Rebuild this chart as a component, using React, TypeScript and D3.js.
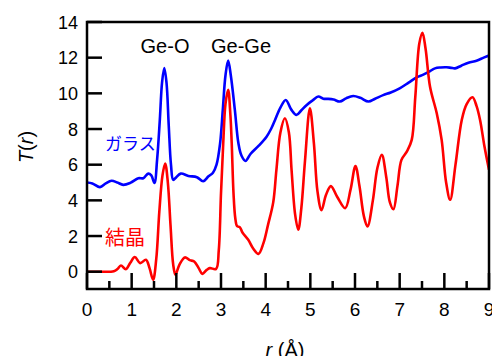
import * as d3 from 'd3';

// Glass T(r)
const glassR = [0, 0.12, 0.29, 0.42, 0.55, 0.68, 0.81, 0.97, 1.15, 1.26, 1.37, 1.44, 1.51, 1.57, 1.63, 1.68, 1.73, 1.78, 1.83, 1.88, 1.93, 2.0, 2.1, 2.27, 2.46, 2.6, 2.72, 2.82, 2.9, 2.98, 3.04, 3.1, 3.16, 3.22, 3.31, 3.39, 3.46, 3.55, 3.66, 3.84, 4.02, 4.12, 4.21, 4.33, 4.45, 4.57, 4.69, 4.8, 4.92, 5.05, 5.18, 5.29, 5.4, 5.52, 5.66, 5.8, 5.96, 6.12, 6.3, 6.45, 6.63, 6.8, 7.0, 7.2, 7.38, 7.53, 7.65, 7.79, 7.92, 8.05, 8.15, 8.24, 8.38, 8.54, 8.72, 8.88, 9.0];
const glassT = [5.0, 4.95, 4.74, 4.95, 5.1, 5.0, 4.87, 4.98, 5.24, 5.24, 5.5, 5.4, 4.98, 6.3, 8.5, 10.6, 11.42, 10.6, 8.2, 6.0, 5.15, 5.3, 5.5, 5.37, 5.3, 5.07, 5.35, 5.55, 6.0, 7.2, 9.07, 11.0, 11.84, 11.0, 9.07, 7.2, 6.5, 6.21, 6.6, 7.05, 7.57, 8.0, 8.51, 9.2, 9.63, 9.1, 8.79, 9.05, 9.35, 9.6, 9.82, 9.7, 9.69, 9.65, 9.54, 9.72, 9.85, 9.75, 9.54, 9.7, 9.9, 10.05, 10.28, 10.6, 10.9, 11.05, 11.2, 11.4, 11.45, 11.46, 11.43, 11.4, 11.55, 11.72, 11.83, 12.0, 12.12];

// Crystal T(r)
const crystalR = [0, 0.3, 0.6, 0.68, 0.76, 0.87, 0.97, 1.07, 1.19, 1.32, 1.4, 1.48, 1.55, 1.62, 1.69, 1.75, 1.81, 1.87, 1.93, 1.98, 2.07, 2.19, 2.3, 2.4, 2.5, 2.58, 2.68, 2.75, 2.89, 2.95, 3.0, 3.05, 3.1, 3.16, 3.21, 3.24, 3.28, 3.32, 3.36, 3.42, 3.48, 3.61, 3.72, 3.84, 3.95, 4.05, 4.17, 4.24, 4.33, 4.43, 4.52, 4.58, 4.66, 4.73, 4.8, 4.88, 4.99, 5.08, 5.16, 5.25, 5.35, 5.46, 5.6, 5.78, 5.9, 6.01, 6.1, 6.2, 6.28, 6.4, 6.5, 6.6, 6.7, 6.78, 6.86, 6.95, 7.04, 7.16, 7.27, 7.35, 7.44, 7.51, 7.58, 7.68, 7.83, 7.94, 8.04, 8.13, 8.25, 8.39, 8.5, 8.63, 8.72, 8.8, 8.9, 9.0];
const crystalT = [0.0, 0.0, 0.03, 0.15, 0.35, 0.14, 0.5, 0.82, 0.48, 0.67, 0.2, -0.45, 0.7, 3.4, 5.4, 6.07, 5.0, 2.6, 0.4, -0.17, 0.4, 0.8, 0.65, 0.57, 0.2, -0.12, 0.1, 0.2, 0.16, 1.2, 4.4, 7.2, 9.4, 10.2, 8.8, 7.2, 4.4, 3.0, 2.55, 2.5, 2.2, 1.79, 1.3, 1.0, 1.6, 2.6, 3.9, 5.7, 7.8, 8.6, 7.8, 5.7, 3.2, 2.35, 3.6, 6.2, 9.16, 7.2, 4.5, 3.45, 4.3, 4.8, 4.2, 3.56, 4.6, 5.93, 4.8, 3.1, 2.53, 4.0, 5.8, 6.55, 5.3, 3.9, 3.5, 4.8, 6.27, 6.73, 7.39, 9.8, 12.8, 13.4, 12.5, 10.37, 8.88, 7.39, 5.0, 4.03, 6.0, 8.51, 9.4, 9.78, 9.3, 8.51, 7.0, 5.71];

const xMajor = [0, 1, 2, 3, 4, 5, 6, 7, 8, 9];
const xMinor = [0.5, 1.5, 2.5, 3.5, 4.5, 5.5, 6.5, 7.5, 8.5];
const yMajor = [0, 2, 4, 6, 8, 10, 12, 14];

const W = 492;
const H = 356;
const L = 87, R = 489, T = 22, B = 289;
const font = 'Liberation Sans, Arial, Helvetica, sans-serif';
const cjk = '"Noto Sans CJK JP", sans-serif';

export default function App() {
  const x = d3.scaleLinear().domain([0, 9]).range([L, R]);
  const y = d3.scaleLinear().domain([-0.97, 14]).range([B, T]);

  const line = d3.line<[number, number]>()
    .x(d => x(d[0]))
    .y(d => y(d[1]))
    .curve(d3.curveCatmullRom.alpha(0.5));

  const glass = line(glassR.map((r, i) => [r, glassT[i]] as [number, number])) ?? '';
  const crystal = line(crystalR.map((r, i) => [r, crystalT[i]] as [number, number])) ?? '';

  return (
    <svg width={W} height={H} style={{ position: 'absolute', left: 0, top: 0, background: '#fff' }}>
      <defs>
        <clipPath id="plot">
          <rect x={L} y={T} width={R - L} height={B - T} />
        </clipPath>
      </defs>

      <g clipPath="url(#plot)" fill="none" strokeWidth={2.6} strokeLinejoin="round">
        <path d={glass} stroke="#0000ff" />
        <path d={crystal} stroke="#ff0000" />
      </g>

      {/* frame */}
      <rect x={L} y={T} width={R - L} height={B - T} fill="none" stroke="#000" strokeWidth={2.5} />

      {/* x ticks */}
      {xMajor.map(v => (
        <g key={'xm' + v}>
          <line x1={x(v)} x2={x(v)} y1={B} y2={B - 16} stroke="#000" strokeWidth={2.5} />
          <text x={x(v)} y={316} textAnchor="middle" fontFamily={font} fontSize={19}>{v}</text>
        </g>
      ))}
      {xMinor.map(v => (
        <line key={'xn' + v} x1={x(v)} x2={x(v)} y1={B} y2={B - 8} stroke="#000" strokeWidth={2.5} />
      ))}

      {/* y ticks */}
      {yMajor.map(v => (
        <g key={'ym' + v}>
          <line x1={L} x2={L + 15} y1={y(v)} y2={y(v)} stroke="#000" strokeWidth={2.5} />
          <text x={78} y={y(v) + 6.5} textAnchor="end" fontFamily={font} fontSize={18}>{v}</text>
        </g>
      ))}

      {/* axis titles */}
      <text transform="translate(33,147) rotate(-90)" textAnchor="middle" fontFamily={font} fontSize={20}>
        <tspan fontStyle="italic">T</tspan>(<tspan fontStyle="italic">r</tspan>)
      </text>
      <text x={285} y={357} textAnchor="middle" fontFamily={font} fontSize={20}>
        <tspan fontStyle="italic">r</tspan> (Å)
      </text>

      {/* annotations */}
      <text x={165} y={53} textAnchor="middle" fontFamily={font} fontSize={20}>Ge-O</text>
      <text x={241} y={53} textAnchor="middle" fontFamily={font} fontSize={20}>Ge-Ge</text>
      <text x={105} y={150} fontFamily={cjk} fontSize={17} fill="#0000ff">ガラス</text>
      <text x={105} y={245} fontFamily={cjk} fontSize={20} fill="#ff0000">結晶</text>
    </svg>
  );
}
